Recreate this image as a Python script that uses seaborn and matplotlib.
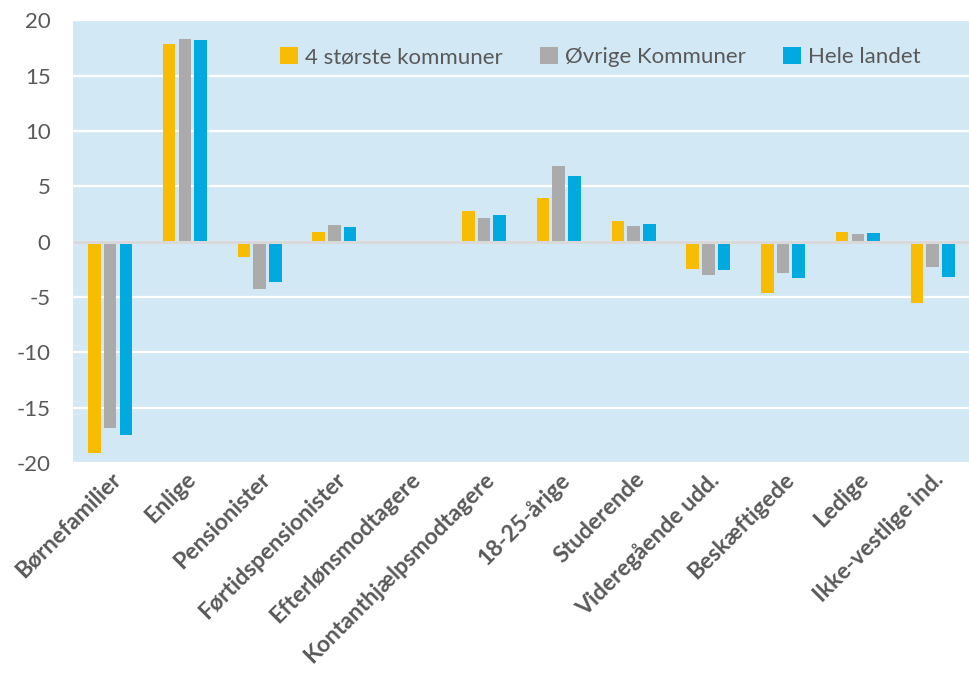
import matplotlib
matplotlib.use("Agg")
import matplotlib.pyplot as plt
import pandas as pd
import seaborn as sns

categories = ["Børnefamilier", "Enlige", "Pensionister", "Førtidspensionister",
              "Efterlønsmodtagere", "Kontanthjælpsmodtagere", "18-25-årige",
              "Studerende", "Videregående udd.", "Beskæftigede", "Ledige",
              "Ikke-vestlige ind."]
series = ["4 største kommuner", "Øvrige Kommuner", "Hele landet"]
store4 = [-19.1, 17.9, -1.4, 0.9, 0.0, 2.8, 3.9, 1.9, -2.5, -4.6, 0.9, -5.5]
oevrige = [-16.8, 18.3, -4.3, 1.5, 0.0, 2.1, 6.8, 1.4, -3.0, -2.8, 0.7, -2.3]
hele = [-17.5, 18.2, -3.6, 1.3, 0.0, 2.4, 5.9, 1.6, -2.6, -3.3, 0.8, -3.2]
colors = ["#F8BC03", "#ABABAB", "#00A9E0"]

rows = []
for name, vals in zip(series, [store4, oevrige, hele]):
    for cat, v in zip(categories, vals):
        rows.append({"kategori": cat, "serie": name, "værdi": v})
df = pd.DataFrame(rows)

sns.set_style("white")
plt.rcParams["font.family"] = ["Lato", "DejaVu Sans"]
plt.rcParams["axes.unicode_minus"] = False

fig = plt.figure(figsize=(9.7, 6.76), dpi=100)
ax = fig.add_axes([0.075, 0.315, 0.925, 0.655])
ax.set_facecolor("#D3E8F5")

sns.barplot(data=df, x="kategori", y="værdi", hue="serie", order=categories,
            hue_order=series, palette=colors, saturation=1, width=0.63, gap=0.2,
            ax=ax, zorder=3, linewidth=0)

ax.set_ylim(-20, 20)
ax.set_xlim(-0.5, len(categories) - 0.5)
ax.set_yticks(range(-20, 21, 5))
ax.yaxis.grid(True, color="white", linewidth=1.6, zorder=0)
ax.set_axisbelow(True)
ax.axhline(0, color="#D9D9D9", linewidth=2.2, zorder=4)
for s in ax.spines.values():
    s.set_visible(False)

ax.set_xlabel("")
ax.set_ylabel("")
ax.tick_params(axis="y", labelsize=16, labelcolor="#595959", length=0, pad=16)
ax.tick_params(axis="x", length=0, pad=4)
ax.set_xticks(range(len(categories)))
ax.set_xticklabels(categories, rotation=45, ha="right", rotation_mode="anchor",
                   fontsize=16.5, fontweight="bold", color="#595959")

ax.legend(loc="upper center", bbox_to_anchor=(0.588, 0.985), ncol=3, frameon=False,
          fontsize=16, handlelength=0.8, handleheight=0.8, columnspacing=1.7,
          handletextpad=0.3, labelcolor="#595959")

fig.savefig("out.png", dpi=100)
